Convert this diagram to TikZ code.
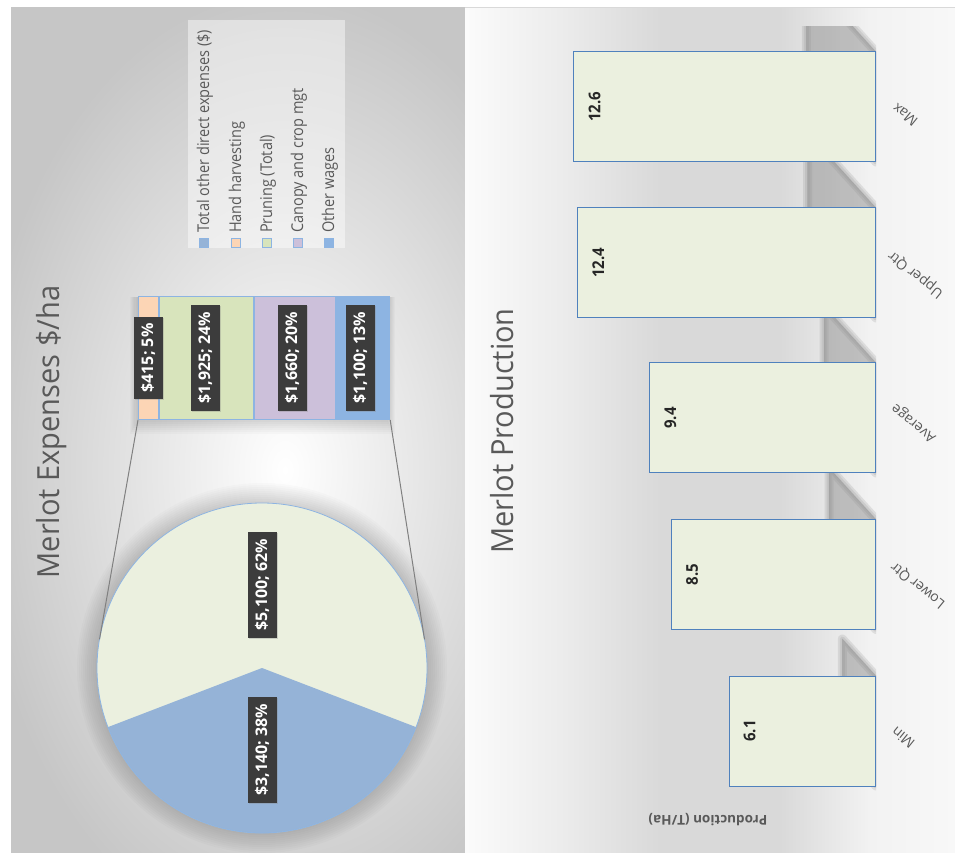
\documentclass[tikz,border=0pt]{standalone}
\usepackage{fontspec}
\setmainfont{Open Sans}
\usetikzlibrary{shadows}
\definecolor{lpout}{HTML}{C6C6C6}
\definecolor{rp0}{HTML}{FBFBFB}
\definecolor{rp1}{HTML}{ECECEC}
\definecolor{rp2}{HTML}{D9D9D9}
\definecolor{rp3}{HTML}{F2F2F2}
\definecolor{rp4}{HTML}{F8F8F8}
\definecolor{txtgray}{HTML}{595959}
\definecolor{peach}{HTML}{FCD5B5}
\definecolor{sgreen}{HTML}{D8E4BC}
\definecolor{lav}{HTML}{CCC0DA}
\definecolor{sblue}{HTML}{8DB4E2}
\definecolor{pieblue}{HTML}{95B3D7}
\definecolor{pielight}{HTML}{EBF0DF}
\definecolor{segline}{HTML}{8DB4E2}
\definecolor{lblc}{HTML}{3C3C3C}
\definecolor{barfill}{HTML}{EBF0DF}
\definecolor{barline}{HTML}{4F81BD}
\definecolor{connc}{HTML}{808080}
\definecolor{topline}{HTML}{D9D9D9}
\pgfdeclarehorizontalshading{rpshade}{100bp}{color(0bp)=(rp0); color(25bp)=(rp0); color(34.7bp)=(rp1); color(44.9bp)=(rp2); color(57.1bp)=(rp2); color(66.3bp)=(rp3); color(75bp)=(rp4); color(100bp)=(rp4)}
\newcommand{\mybarshadow}[4]{%
  \foreach \w in {9,5,1}
    \filldraw[black!45, opacity=0.2, line width=\w, line join=round] #1 -- #2 -- #3 -- #4 -- cycle;}
\begin{document}
\begin{tikzpicture}[x=1pt,y=1pt,
  titletext/.style={rotate=90, yscale=1.05, text=txtgray, font=\fontsize{29}{34}\selectfont, inner sep=0},
  legtext/.style={rotate=90, yscale=1.12, anchor=west, text=txtgray, font=\fontsize{14.5}{17}\selectfont, inner sep=0},
  legmark/.style={draw=segline, line width=0.8, minimum size=9, inner sep=0},
  seg/.style={draw=segline, line width=0.8, minimum height=123, inner sep=0, anchor=south west},
  lbl/.style={rotate=90, fill=lblc, text=white, font=\bfseries\fontsize{16}{19}\selectfont, inner xsep=7, inner ysep=0, minimum height=29,
     drop shadow={opacity=0.3, shadow xshift=1pt, shadow yshift=-1pt}},
  conn/.style={draw=connc, line width=1},
  pbar/.style={draw=barline, fill=barfill, line width=1, minimum height=110, inner sep=0, anchor=east},
  val/.style={rotate=90, yscale=1.08, text=black!85, font=\bfseries\fontsize{15}{18}\selectfont, inner sep=0},
  cat/.style={rotate=141, text=txtgray, font=\fontsize{14}{17}\selectfont, inner sep=0}
]
\useasboundingbox (0,0) rectangle (955,852);
\fill[white] (0,0) rectangle (955,852);
% left panel background
\begin{scope}
  \clip (11,0) rectangle (465,844);
  \fill[lpout] (11,0) rectangle (465,844);
  \shade[inner color=white, outer color=lpout] (-25,-98) rectangle (595,862);
\end{scope}
% right panel background
\shade[shading=rpshade] (465,0) rectangle (955,844);
\draw[topline, line width=1] (465,844) -- (955,844);

% titles
\node[titletext] (t1) at (52,420) {Merlot Expenses \$/ha};
\node[titletext] (t2) at (502,421) {Merlot Production};

% legend
\node[fill=white, fill opacity=0.45, minimum width=157, minimum height=228, inner sep=0] (legend) at (266.5,718) {};
\node[legmark, fill=pieblue] (m1) at (204,609) {};
\node[legmark, fill=peach] (m2) at (236,609) {};
\node[legmark, fill=sgreen] (m3) at (267,609) {};
\node[legmark, fill=lav] (m4) at (298,609) {};
\node[legmark, fill=sblue] (m5) at (329,609) {};
\node[legtext] (e1) at (205,619) {Total other direct expenses (\$)};
\node[legtext] (e2) at (237,619) {Hand harvesting};
\node[legtext] (e3) at (268,619) {Pruning (Total)};
\node[legtext] (e4) at (299,619) {Canopy and crop mgt};
\node[legtext] (e5) at (330,619) {Other wages};

% stacked bar shadow
\foreach \k in {2,4,...,14}
  \fill[black, opacity=0.018] (138-\k*0.6,432-\k) rectangle (387+\k*0.6,555);
% stacked bar
\node[seg, fill=peach, minimum width=20.3] (s1) at (138,432) {};
\node[seg, fill=sgreen, minimum width=94.0] (s2) at (s1.south east) {};
\node[seg, fill=lav, minimum width=81.0] (s3) at (s2.south east) {};
\node[seg, fill=sblue, minimum width=53.7] (s4) at (s3.south east) {};

% pie shadow
\foreach \k in {2,4,...,22}
  \fill[black, opacity=0.014] (262,184) circle (163+\k);
% pie
\node[circle, fill=pielight, minimum size=330, inner sep=0, outer sep=0] (pie) at (262,184) {};
\fill[pieblue] (pie.center) -- (pie.201) arc[start angle=201, end angle=339, radius=165] -- cycle;
\draw[segline, line width=0.8] (pie.center) circle[radius=165];

% connectors
\draw[conn] (s1.south west) -- (pie.170);
\draw[conn] (s4.south east) -- (pie.10);

% labels
\node[lbl] (l1) at (148,494) {\$415; 5\%};
\node[lbl] (l2) at (205,494) {\$1,925; 24\%};
\node[lbl] (l3) at (292,494) {\$1,660; 20\%};
\node[lbl] (l4) at (360,494) {\$1,100; 13\%};
\node[lbl] (l5) at (262,267) {\$5,100; 62\%};
\node[lbl] (l6) at (262,102) {\$3,140; 38\%};

% bar shadows
\begin{scope}
  \clip (465,0) rectangle (876,825);
  \mybarshadow{(876,690)}{(876,800)}{(806.4,876.5)}{(806.4,766.5)}
  \mybarshadow{(876,534)}{(876,644)}{(807.6,719.3)}{(807.6,609.3)}
  \mybarshadow{(876,379)}{(876,489)}{(824.1,546.1)}{(824.1,436.1)}
  \mybarshadow{(876,222.5)}{(876,332.5)}{(829.1,384.1)}{(829.1,274.1)}
  \mybarshadow{(876,66)}{(876,176)}{(842.3,213)}{(842.3,103)}
\end{scope}

% bars
\node[pbar, minimum width=302.4] (bmax) at (876,745) {};
\node[pbar, minimum width=297.6] (buq) at (876,589) {};
\node[pbar, minimum width=225.6] (bavg) at (876,434) {};
\node[pbar, minimum width=204] (blq) at (876,277.5) {};
\node[pbar, minimum width=146.4] (bmin) at (876,121) {};

\node[val] (v1) at ([xshift=22]bmax.west) {12.6};
\node[val] (v2) at ([xshift=21]buq.west) {12.4};
\node[val] (v3) at ([xshift=21]bavg.west) {9.4};
\node[val] (v4) at ([xshift=21]blq.west) {8.5};
\node[val] (v5) at ([xshift=21]bmin.west) {6.1};

\node[cat] (c1) at (905,737) {Max};
\node[cat] (c2) at (916,578) {Upper Qtr};
\node[cat] (c3) at (914,429) {Average};
\node[cat] (c4) at (918,267) {Lower Qtr};
\node[cat] (c5) at (903,114) {Min};

\node[rotate=180, text=txtgray, font=\bfseries\fontsize{13.5}{16}\selectfont, inner sep=0] (ax) at (708,32) {Production (T/Ha)};
\end{tikzpicture}
\end{document}
